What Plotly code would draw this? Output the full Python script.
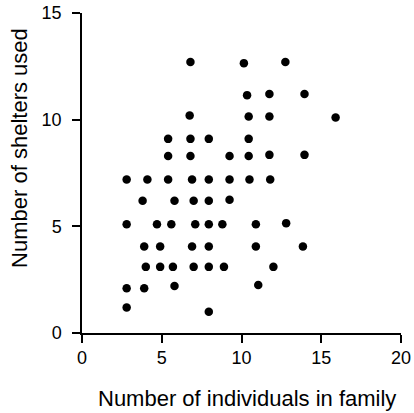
import plotly.graph_objects as go

# Family size (x) vs. number of shelters used (y)
family_size = [
    6.8, 6.75, 5.4, 6.8, 7.95, 5.4, 6.8, 9.25,
    2.8, 4.1, 5.4, 6.9, 7.95, 9.25,
    10.15, 12.75, 10.35, 11.75, 13.95, 10.45, 11.75, 15.9,
    10.45, 10.45, 11.75, 13.95, 10.5, 11.8,
    3.8, 5.8, 7.0, 7.95, 9.25,
    2.8, 4.7, 5.6, 7.1, 7.95, 8.8,
    3.9, 4.9, 6.9, 7.95,
    4.0, 4.9, 5.7, 7.0, 7.95, 8.9,
    2.8, 3.9, 5.8, 2.8, 7.95,
    10.9, 12.8, 10.9, 13.85, 12.0, 11.05,
]
shelters_used = [
    12.7, 10.2, 9.1, 9.1, 9.1, 8.3, 8.3, 8.3,
    7.2, 7.2, 7.2, 7.2, 7.2, 7.2,
    12.65, 12.7, 11.15, 11.2, 11.2, 10.15, 10.15, 10.1,
    9.1, 8.3, 8.35, 8.35, 7.2, 7.2,
    6.2, 6.2, 6.2, 6.2, 6.25,
    5.1, 5.1, 5.1, 5.1, 5.1, 5.1,
    4.05, 4.05, 4.05, 4.05,
    3.1, 3.1, 3.1, 3.1, 3.1, 3.1,
    2.1, 2.1, 2.2, 1.2, 1.0,
    5.1, 5.15, 4.05, 4.05, 3.1, 2.25,
]
x_ticks = [0, 5, 10, 15, 20]
y_ticks = [0, 5, 10, 15]
x_title = "Number of individuals in family"
y_title = "Number of shelters used"

FONT = "Liberation Sans, Arial, sans-serif"

fig = go.Figure(
    go.Scatter(
        x=family_size,
        y=shelters_used,
        mode="markers",
        marker=dict(color="black", size=8.5, line=dict(width=0)),
        cliponaxis=False,
        hoverinfo="skip",
    )
)

axis_common = dict(
    automargin=False,
    showgrid=False,
    zeroline=False,
    showline=True,
    linecolor="black",
    linewidth=1.5,
    ticks="outside",
    ticklen=8,
    tickwidth=1.5,
    tickcolor="black",
    tickfont=dict(family=FONT, size=18, color="black"),
    fixedrange=True,
)

fig.update_xaxes(range=[0, 20], tickvals=x_ticks, ticklabelstandoff=0, **axis_common)
fig.update_yaxes(range=[0, 15], tickvals=y_ticks, ticklabelstandoff=7, **axis_common)

fig.add_annotation(
    text=x_title, xref="paper", yref="paper", x=0.516, y=-0.205,
    xanchor="center", yanchor="middle", showarrow=False,
    font=dict(family=FONT, size=22, color="black"),
)
fig.add_annotation(
    text=y_title, xref="paper", yref="paper", x=-0.196, y=0.58,
    xanchor="center", yanchor="middle", showarrow=False, textangle=-90,
    font=dict(family=FONT, size=22, color="black"),
)

fig.update_layout(
    width=414,
    height=413,
    margin=dict(l=82, r=13, t=13, b=80, autoexpand=False),
    paper_bgcolor="white",
    plot_bgcolor="white",
    showlegend=False,
)

fig.write_html("out.html")
